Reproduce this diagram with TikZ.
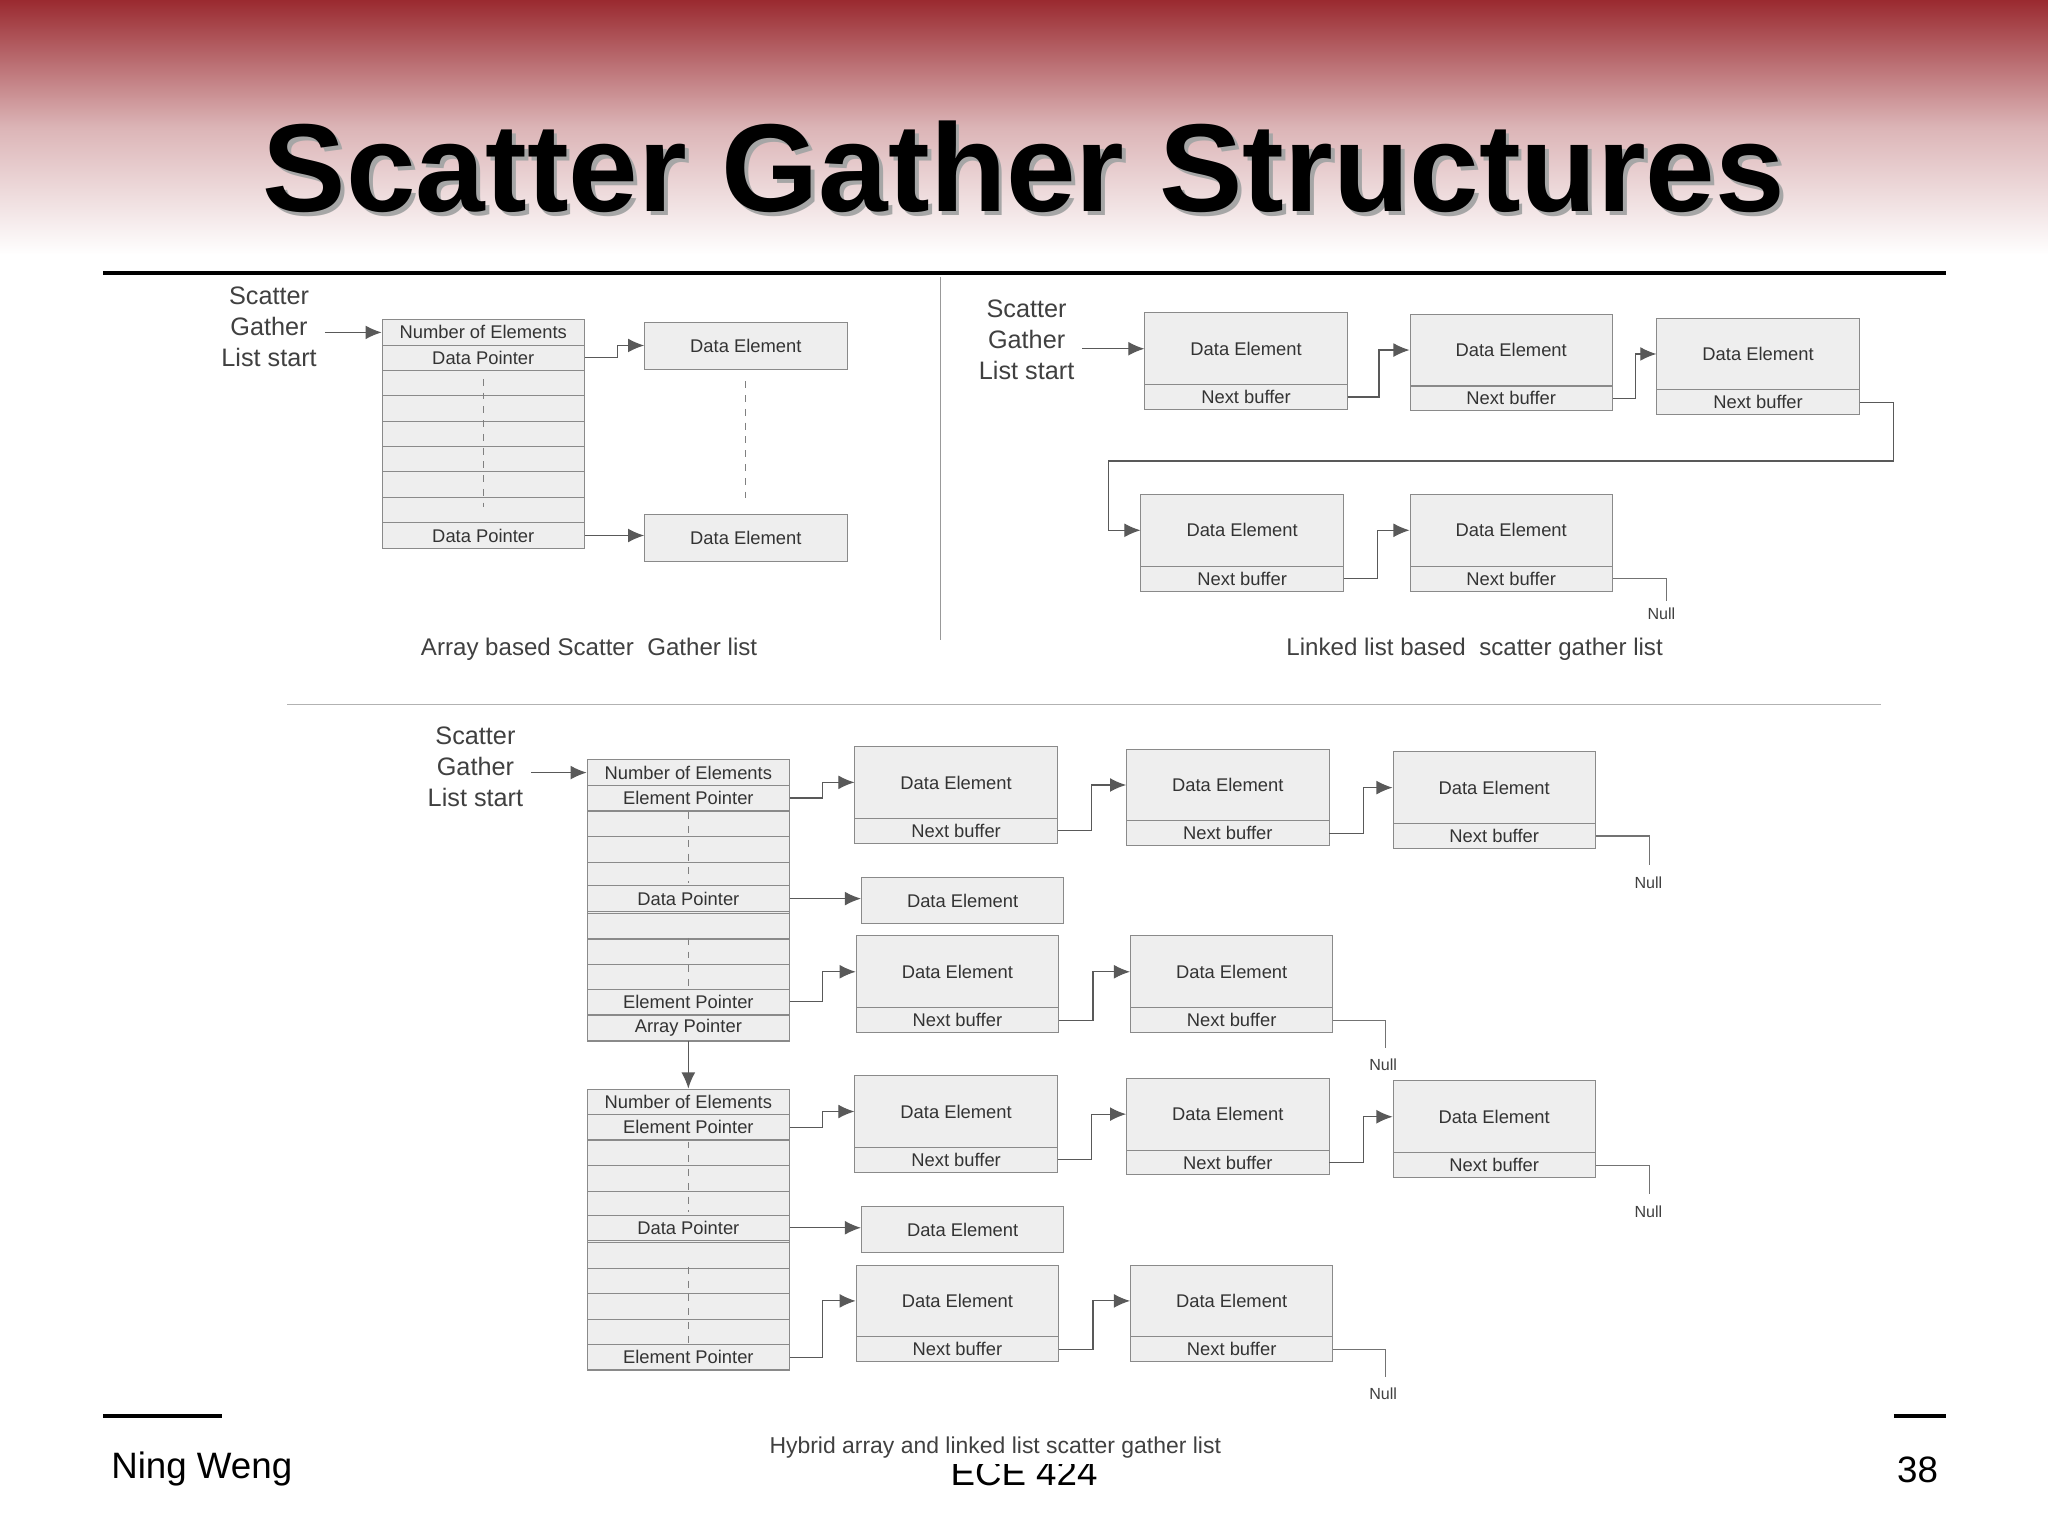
\documentclass[tikz,border=0pt]{standalone}
\usepackage{fontspec}
\setmainfont{Liberation Sans}
\usetikzlibrary{arrows.meta,calc}
\definecolor{topred}{HTML}{9A2A30}
\definecolor{boxfill}{HTML}{EEEEEE}
\definecolor{boxline}{HTML}{8A8A8A}
\tikzset{
  cell/.style={draw=boxline,fill=boxfill,minimum width=3.1cm,minimum height=0.39cm,inner sep=0pt,font=\fontsize{8}{9}\selectfont,text=black!80},
  deup/.style={cell,minimum height=1.1cm,text depth=-0.35cm},
  nb/.style={cell,minimum height=0.38cm},
  arr/.style={draw=black!65,line width=0.5pt,-{Latex[length=7pt,width=6pt]}},
  ln/.style={draw=black!55,line width=0.5pt},
  dsh/.style={draw=black!50,dashed,line width=0.5pt},
  lbl/.style={align=center,font=\fontsize{11}{13.5}\selectfont,text=black!75},
  captxt/.style={font=\fontsize{10.5}{12}\selectfont,text=black!75},
  nul/.style={font=\fontsize{7}{8}\selectfont,text=black!75}
}
\newcommand{\lnode}[3]{%
  \node[deup] (#1d) at (#2+77,#3+27) {Data Element};
  \node[nb] (#1n) at (#2+77,#3+64) {Next buffer};}
\begin{document}
\begin{tikzpicture}[x=0.02cm,y=-0.02cm]
\useasboundingbox (0,0) rectangle (1568,1176);
\fill[white] (0,0) rectangle (1568,1176);
\shade[top color=topred,bottom color=white,middle color=topred!35] (0,0) rectangle (1568,195);
\node (titleshadow) at (787,131) {\fontsize{54.5}{62}\selectfont\bfseries\color{black!35}Scatter Gather Structures};
\node (title) at (784,128) {\fontsize{54.5}{62}\selectfont\bfseries Scatter Gather Structures};
\draw[line width=2pt] (79,209) -- (1490,209);
\draw[line width=2pt] (79,1084) -- (170,1084);
\draw[line width=2pt] (1450,1084) -- (1490,1084);
\node[anchor=west,font=\fontsize{16}{18}\selectfont] (f1) at (79,1125) {Ning Weng};
\node[font=\fontsize{16}{18}\selectfont] (f2) at (784,1128) {ECE 424};
\node[anchor=east,font=\fontsize{16}{18}\selectfont] (f3) at (1490,1125) {38};
\draw[black!40] (720,212) -- (720,490);
\draw[black!30] (220,539) -- (1440,539);

% ---------- top left
\node[lbl] (sg1) at (206,250) {Scatter\\Gather\\List start};
\foreach \i in {0,...,8} {\node[cell] (a\i) at (370,254.5+19.4*\i) {};}
\node[cell] (ane) at (370,254.5) {Number of Elements};
\node[cell] (adp1) at (370,274) {Data Pointer};
\node[cell] (adp2) at (370,410) {Data Pointer};
\draw[dsh] (370,290) -- (370,388);
\node[cell,minimum height=0.72cm] (ade1) at (571,264.5) {Data Element};
\node[cell,minimum height=0.72cm] (ade2) at (571,412) {Data Element};
\draw[dsh] (571,292) -- (571,382);
\draw[arr] (sg1.east |- ane.west) -- (ane.west);
\draw[arr] (adp1.east) -- ++(25,0) |- (ade1.west);
\draw[arr] (adp2.east) -- (adp2.east -| ade2.west);
\node[captxt] (c1) at (451,497) {Array based Scatter\ \ Gather list};

% ---------- top right
\node[lbl] (sg2) at (786,260) {Scatter\\Gather\\List start};
\lnode{t1}{877}{240}
\lnode{t2}{1080}{241}
\lnode{t3}{1269}{244}
\lnode{t4}{874}{379}
\lnode{t5}{1080}{379}
\draw[arr] (sg2.east |- t1d.west) -- (t1d.west);
\draw[arr] (t1n.east) -- ++(24,0) |- (t2d.west);
\draw[arr] (t2n.east) -- ++(17,0) |- (t3d.west);
\draw[arr] (t3n.east) -- ++(26,0) |- (849,353) |- (t4d.west);
\draw[arr] (t4n.east) -- ++(26,0) |- (t5d.west);
\coordinate (tn) at (1276,460);
\draw[ln] (t5n.east) -| (tn);
\node[nul] (null1) at (1272,470) {Null};
\node[captxt] (c2) at (1129,497) {Linked list based\ \ scatter gather list};

% ---------- bottom
\node[lbl] (sg3) at (364,587) {Scatter\\Gather\\List start};
\foreach \i in {0,...,10} {\node[cell] (b\i) at (527,591.5+19.6*\i) {};}
\node[cell] (bne) at (527,591.5) {Number of Elements};
\node[cell] (bep1) at (527,611) {Element Pointer};
\node[cell] (bdp) at (527,688) {Data Pointer};
\node[cell] (bep2) at (527,767) {Element Pointer};
\node[cell] (bap) at (527,787) {Array Pointer};
\draw[dsh] (527,622) -- (527,676);
\draw[dsh] (527,718) -- (527,756);
\foreach \i in {0,...,10} {\node[cell] (c\i) at (527,843.5+19.6*\i) {};}
\node[cell] (cne) at (527,843.5) {Number of Elements};
\node[cell] (cep1) at (527,863) {Element Pointer};
\node[cell] (cdp) at (527,940) {Data Pointer};
\node[cell] (cep2) at (527,1039) {Element Pointer};
\draw[dsh] (527,874) -- (527,928);
\draw[dsh] (527,970) -- (527,1028);
\draw[arr] (sg3.east |- bne.west) -- (bne.west);
\draw[arr] (bap.south) -- (cne.north);

\foreach \o/\p in {0/b,252/c} {
  \lnode{\p1}{655}{572+\o}
  \lnode{\p2}{863}{574+\o}
  \lnode{\p3}{1067}{576+\o}
  \lnode{\p4}{656}{717+\o}
  \lnode{\p5}{866}{717+\o}
  \node[cell,minimum height=0.7cm] (\p s) at (737,689.5+\o) {Data Element};
  \draw[arr] (\p 1n.east) -- ++(26,0) |- (\p 2d.west);
  \draw[arr] (\p 2n.east) -- ++(26,0) |- (\p 3d.west);
  \draw[arr] (\p dp.east) -- (\p dp.east -| \p s.west);
  \draw[arr] (\p 4n.east) -- ++(26,0) |- (\p 5d.west);
  \coordinate (\p x1) at (1263,662+\o);
  \coordinate (\p x2) at (1061,802+\o);
  \draw[ln] (\p 3n.east) -| (\p x1);
  \draw[ln] (\p 5n.east) -| (\p x2);
  \node[nul] (\p nl1) at (1262,676+\o) {Null};
  \node[nul] (\p nl2) at (1059,815+\o) {Null};
}
\draw[arr] (bep1.east) -- ++(25,0) |- (b1d.west);
\draw[arr] (bep2.east) -- ++(25,0) |- (b4d.west);
\draw[arr] (cep1.east) -- ++(25,0) |- (c1d.west);
\draw[arr] (cep2.east) -- ++(25,0) |- (c4d.west);
\fill[white] (560,1095) rectangle (965,1121);
\node[captxt,font=\fontsize{10}{12}\selectfont] (c3) at (762,1108) {Hybrid array and linked list scatter gather list};
\end{tikzpicture}
\end{document}
